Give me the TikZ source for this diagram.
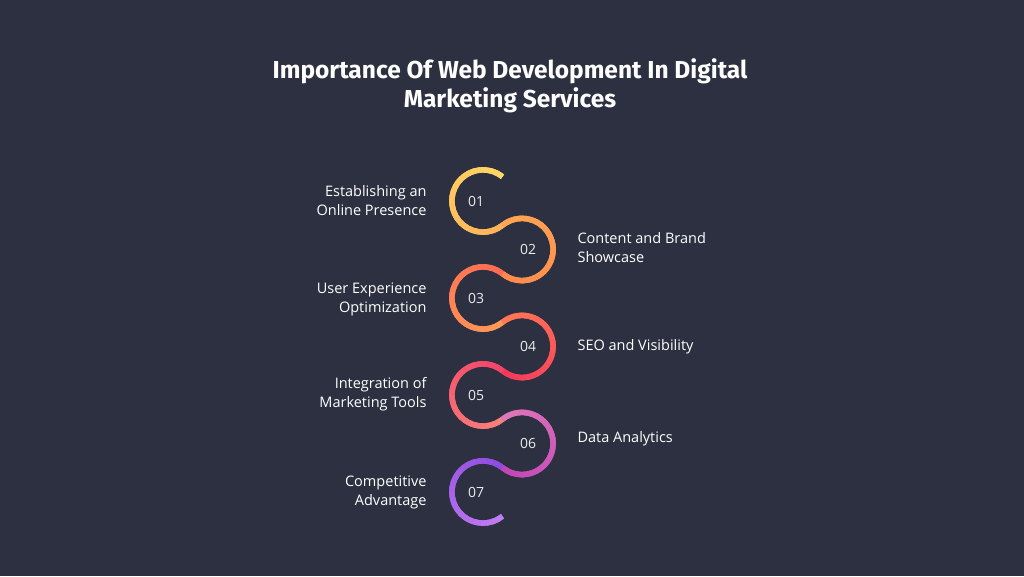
\documentclass[tikz,border=0pt]{standalone}
\usepackage{fontspec}
\setmainfont{Open Sans}
\newfontfamily\titlefont{Fira Sans}
\definecolor{bg}{HTML}{2D3040}
\definecolor{sa1}{HTML}{FFD866}\definecolor{sb1}{HTML}{FFB257}
\definecolor{sa2}{HTML}{FFA653}\definecolor{sb2}{HTML}{FF8A4C}
\definecolor{sa3}{HTML}{FF6A52}\definecolor{sb3}{HTML}{FF9A58}
\definecolor{sa4}{HTML}{FF7A55}\definecolor{sb4}{HTML}{F5385C}
\definecolor{sa5}{HTML}{F5436A}\definecolor{sb5}{HTML}{F8827A}
\definecolor{sa6}{HTML}{DE78B8}\definecolor{sb6}{HTML}{C245B8}
\definecolor{sa7}{HTML}{8E4BE0}\definecolor{sb7}{HTML}{C27CF2}
\begin{document}
\begin{tikzpicture}[x=1pt,y=1pt,
  title/.style={font=\titlefont\bfseries\fontsize{24.5}{29}\selectfont,text=white,align=center},
  lbl/.style={font=\fontsize{14.5}{19}\selectfont,text=white},
  num/.style={font=\fontsize{14}{16}\selectfont,text=white!85!gray}]
\fill[bg] (0,0) rectangle (1024,576);
\useasboundingbox (0,0) rectangle (1024,576);
\node[title] (t) at (510,490) {Importance Of Web Development In Digital\\Marketing Services};
\foreach \i in {1,...,7}{
  \pgfmathsetmacro\cx{ifthenelse(mod(\i,2)==1,483,522)}
  \pgfmathsetmacro\cy{375-48.5*(\i-1)}
  \pgfmathsetmacro\st{ifthenelse(mod(\i,2)==1,51.2,128.8)}
  \pgfmathsetmacro\sp{ifthenelse(mod(\i,2)==1,257.6,-257.6)}
  \draw[line width=5.5pt,color=sa\i!50!sb\i] ({\cx+31.1*cos(\st)},{\cy+31.1*sin(\st)}) arc[start angle=\st,delta angle=\sp,radius=31.1];
  \foreach \k in {0,...,23}{
    \pgfmathsetmacro\a{\st+\k*\sp/24}
    \pgfmathsetmacro\p{100-\k*100/23}
    \pgfmathsetmacro\d{ifthenelse(\k==23,\sp/24,\sp/24*1.4)}
    \draw[line width=5.5pt,color=sa\i!\p!sb\i] ({\cx+31.1*cos(\a)},{\cy+31.1*sin(\a)}) arc[start angle=\a,delta angle=\d,radius=31.1];
  }
}
\node[num] (n1) at (476,375) {01};
\node[num] (n2) at (528,326.5) {02};
\node[num] (n3) at (476,278) {03};
\node[num] (n4) at (528,229.5) {04};
\node[num] (n5) at (476,181) {05};
\node[num] (n6) at (528,132.5) {06};
\node[num] (n7) at (476,84) {07};
\node[lbl,anchor=east,align=right] (l1) at (430,375) {Establishing an\\Online Presence};
\node[lbl,anchor=west,align=left] (l2) at (574,328) {Content and Brand\\Showcase};
\node[lbl,anchor=east,align=right] (l3) at (430,277) {User Experience\\Optimization};
\node[lbl,anchor=west,align=left] (l4) at (574,229.5) {SEO and Visibility};
\node[lbl,anchor=east,align=right] (l5) at (430,182) {Integration of\\Marketing Tools};
\node[lbl,anchor=west,align=left] (l6) at (574,137) {Data Analytics};
\node[lbl,anchor=east,align=right] (l7) at (430,84) {Competitive\\Advantage};
\end{tikzpicture}
\end{document}
